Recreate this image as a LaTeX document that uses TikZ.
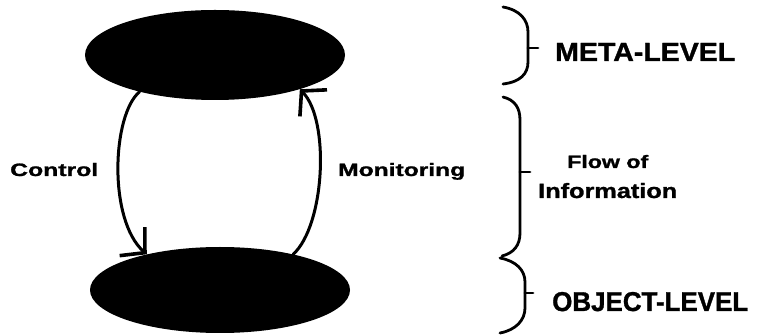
\documentclass[tikz,border=0pt]{standalone}
\usepackage{graphicx}
\usepackage{fontspec}
\usetikzlibrary{arrows.meta,shapes.geometric}
\newfontfamily\lblfont{Liberation Sans}[BoldFeatures={FakeBold=1.2}]
% label set in bold sans, stretched to a given width and height
\newcommand\fitlabel[3]{\resizebox{#1}{#2}{\lblfont\bfseries #3}}
\begin{document}
\begin{tikzpicture}[x=1pt,y=-1pt,
  level/.style={ellipse,fill=black,draw=none,inner sep=0pt},
  flow/.style={line width=3pt,line cap=round,
    -{Straight Barb[length=17pt,width=38pt,line width=3.6pt]}},
  bracket/.style={line width=2.8pt,line cap=round},
  lbl/.style={inner sep=0pt,anchor=base west}]
\useasboundingbox (0,0) rectangle (763,336);
% the two levels
\node[level,minimum width=260pt,minimum height=90pt] (meta) at (215,55) {};
\node[level,minimum width=260pt,minimum height=86pt] (object) at (220,290) {};
% control goes down, monitoring goes up
\draw[flow] (meta.206) .. controls (112,115) and (108,220) .. (object.154);
\draw[flow] (object.26) .. controls (325,225) and (330,120) .. (meta.-22);
% arc labels
\node[lbl] (ctrl) at (10,176) {\fitlabel{88pt}{13pt}{Control}};
\node[lbl] (mon) at (338,176) {\fitlabel{127pt}{13pt}{Monitoring}};
% braces on the right
\draw[bracket] (503,7) .. controls (520,10) and (528,20) .. (528,32) -- (528,62)
  .. controls (528,74) and (520,82) .. (503,84);
\draw[bracket] (528,48) -- (538,48);
\draw[bracket] (503,97) .. controls (515,100) and (520,108) .. (520,120) -- (520,233)
  .. controls (520,245) and (514,253) .. (502,256);
\draw[bracket] (520,172) -- (530,172);
\draw[bracket] (500,258) .. controls (516,261) and (525,270) .. (525,282) -- (525,308)
  .. controls (525,320) and (516,330) .. (500,333);
\draw[bracket] (525,293) -- (533,293);
% brace labels
\node[lbl] (metalbl) at (555,61) {\fitlabel{180pt}{18pt}{META-LEVEL}};
\node[lbl] (flow1) at (567,168) {\fitlabel{81pt}{13pt}{Flow of}};
\node[lbl] (flow2) at (538,198) {\fitlabel{139pt}{15pt}{Information}};
\node[lbl] (objlbl) at (552,311) {\fitlabel{196pt}{19pt}{OBJECT-LEVEL}};
\end{tikzpicture}
\end{document}
